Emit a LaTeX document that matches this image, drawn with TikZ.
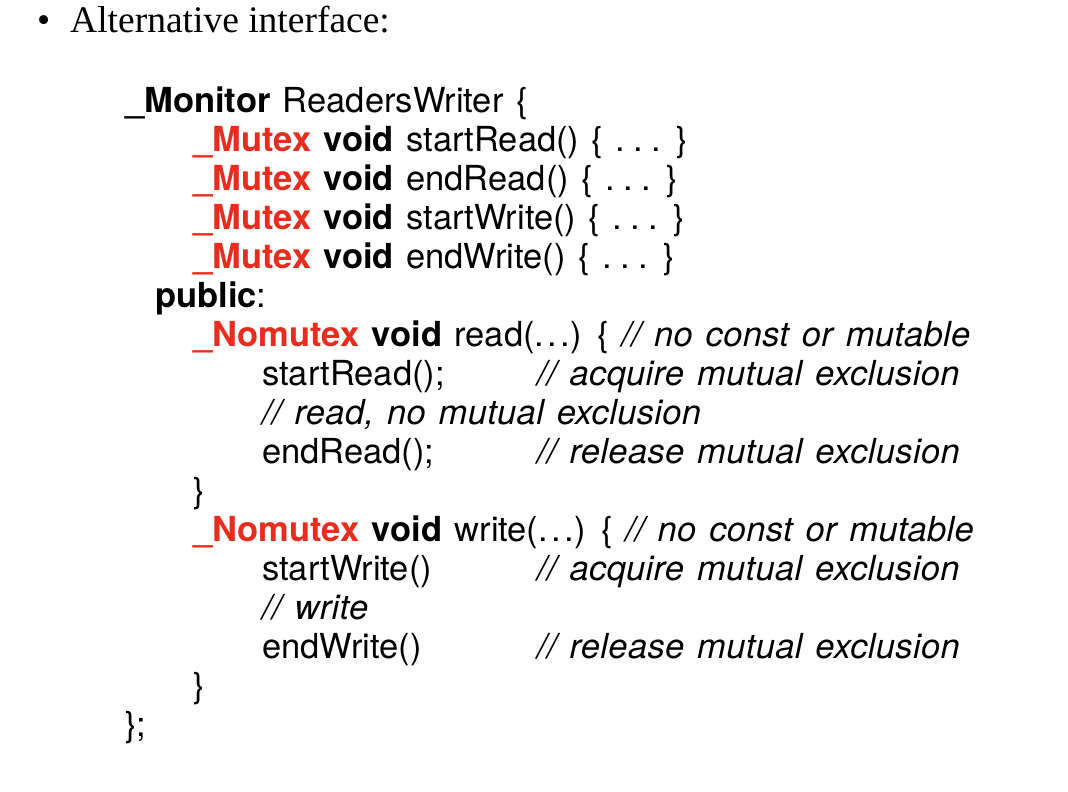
\documentclass[tikz,border=0pt]{standalone}
\usepackage{fontspec}
\setmainfont{Liberation Serif}
\newfontfamily\codefont[WordSpace=1.3,ItalicFeatures={LetterSpace=1}]{TeX Gyre Heros}
\definecolor{kwred}{RGB}{232,44,30}
\tikzset{
	code/.style={anchor=base west,inner sep=0pt,font=\codefont\fontsize{34.5}{39}\selectfont},
	txt/.style={anchor=base west,inner sep=0pt,font=\fontsize{37.5}{44}\selectfont}
}
\newcommand{\mut}[1]{\textcolor{kwred}{\textbf{\_#1}}}
\newcommand{\cmt}[1]{\textit{// #1}}
\newcommand{\dts}{.\hspace{0.24em}.\hspace{0.24em}.}
\newcommand{\args}{(.\hspace{0.1em}.\hspace{0.1em}.)}
\begin{document}
\begin{tikzpicture}[x=1pt,y=-1pt]
		\useasboundingbox[fill=white](0,0)rectangle(1068,792);
		\node[txt](bul)at(37,33){\textbullet};
		\node[txt](head)at(70,33){Alternative interface:};
		\node[code](mon)at(125,112){\textbf{\_Monitor} ReadersWriter \{};
		\node[code](sr)at(193,151){\mut{Mutex} \textbf{void} startRead() \{ \dts{} \}};
		\node[code](er)at(193,190){\mut{Mutex} \textbf{void} endRead() \{ \dts{} \}};
		\node[code](sw)at(193,229){\mut{Mutex} \textbf{void} startWrite() \{ \dts{} \}};
		\node[code](ew)at(193,268){\mut{Mutex} \textbf{void} endWrite() \{ \dts{} \}};
		\node[code](pub)at(155,307){\textbf{public}:};
		\node[code](rd)at(193,346){\mut{Nomutex} \textbf{void} read\args{} \{ \cmt{no const or mutable}};
		\node[code](rd1)at(262,385){startRead();};
		\node[code](rd1c)at(537,385){\cmt{acquire mutual exclusion}};
		\node[code](rd2)at(262,424){\cmt{read, no mutual exclusion}};
		\node[code](rd3)at(262,463){endRead();};
		\node[code](rd3c)at(537,463){\cmt{release mutual exclusion}};
		\node[code](rdend)at(193,502){\}};
		\node[code](wr)at(193,541){\mut{Nomutex} \textbf{void} write\args{} \{ \cmt{no const or mutable}};
		\node[code](wr1)at(262,580){startWrite()};
		\node[code](wr1c)at(537,580){\cmt{acquire mutual exclusion}};
		\node[code](wr2)at(262,619){\cmt{write}};
		\node[code](wr3)at(262,658){endWrite()};
		\node[code](wr3c)at(537,658){\cmt{release mutual exclusion}};
		\node[code](wrend)at(193,697){\}};
		\node[code](monend)at(125,736){\};};
	\end{tikzpicture}
\end{document}
